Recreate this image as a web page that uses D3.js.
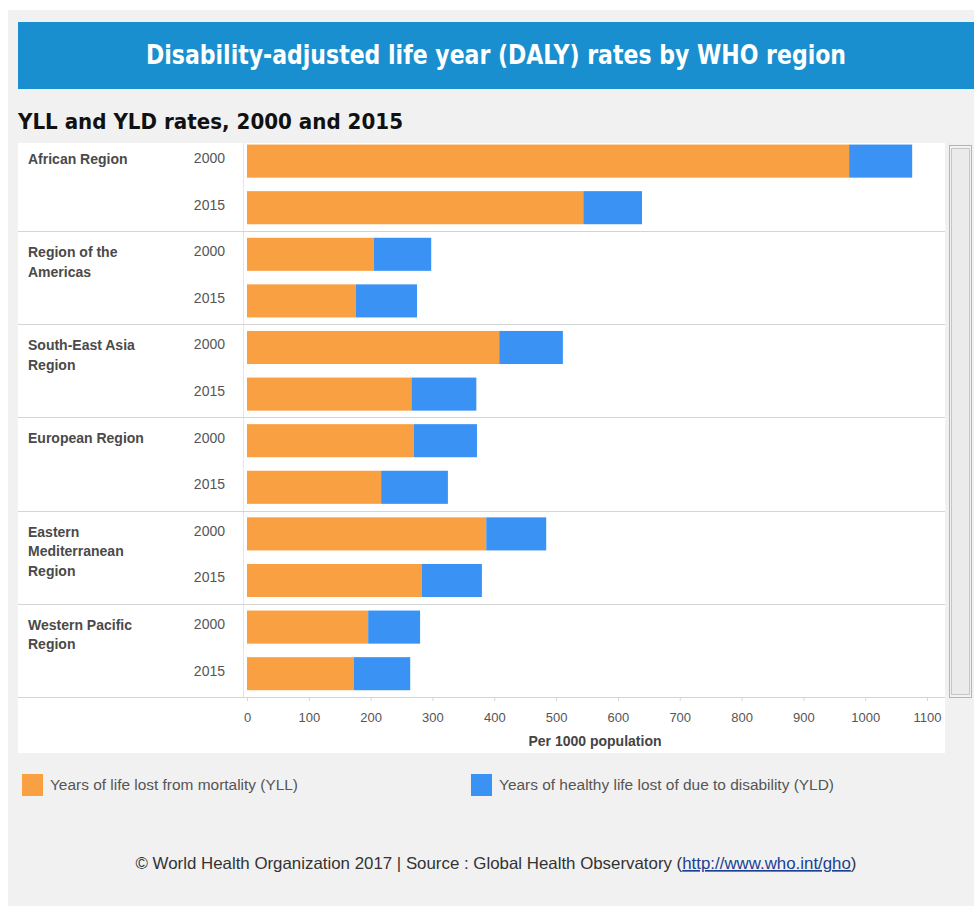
<!DOCTYPE html>
<html>
<head>
<meta charset="utf-8">
<script src="https://cdn.jsdelivr.net/npm/d3@7"></script>
<style>
  html, body { margin: 0; padding: 0; background: #ffffff; }
  svg { display: block; }
</style>
</head>
<body>
<svg id="chart" width="974" height="906"></svg>
<script>
// ---- data ----
const regions = ["African Region", "Region of the Americas", "South-East Asia Region", "European Region", "Eastern Mediterranean Region", "Western Pacific Region"];
const regionLines = [["African Region"], ["Region of the", "Americas"], ["South-East Asia", "Region"], ["European Region"], ["Eastern", "Mediterranean", "Region"], ["Western Pacific", "Region"]];
const years = ["2000", "2015"];
// YLL (years of life lost from mortality), per 1000 population
const yll2000 = [974, 205, 408, 270, 387, 196];
const yll2015 = [544, 176, 266, 217, 283, 173];
// YLD (years of healthy life lost due to disability)
const yld2000 = [102, 93, 103, 102, 97, 84];
const yld2015 = [95, 99, 105, 108, 97, 91];
const xTicks = [0, 100, 200, 300, 400, 500, 600, 700, 800, 900, 1000, 1100];
const seriesNames = ["Years of life lost from mortality (YLL)", "Years of healthy life lost of due to disability (YLD)"];
const colors = ["#f9a042", "#3a93f4"];

// build rows
const rows = [];
regions.forEach((r, i) => {
  rows.push({ key: r + "|2000", region: i, year: years[0], yll: yll2000[i], yld: yld2000[i] });
  rows.push({ key: r + "|2015", region: i, year: years[1], yll: yll2015[i], yld: yld2015[i] });
});

const svg = d3.select("#chart");
const font = "'Liberation Sans', Arial, sans-serif";
const condensed = "'DejaVu Sans Condensed', 'DejaVu Sans', sans-serif";

// background panel
svg.append("rect").attr("x", 8).attr("y", 10).attr("width", 966).attr("height", 896).attr("fill", "#f1f1f1");
svg.append("rect").attr("x", 18).attr("y", 143).attr("width", 927).attr("height", 610).attr("fill", "#ffffff");

// title banner
svg.append("rect").attr("x", 18).attr("y", 22).attr("width", 956).attr("height", 67).attr("fill", "#1a8fd0");
svg.append("text").attr("x", 496).attr("y", 64).attr("text-anchor", "middle")
  .attr("font-family", condensed).attr("font-stretch", "condensed").attr("font-weight", "bold")
  .attr("font-size", 26).attr("fill", "#ffffff")
  .attr("textLength", 700).attr("lengthAdjust", "spacingAndGlyphs")
  .text("Disability-adjusted life year (DALY) rates by WHO region");

// subtitle
svg.append("text").attr("x", 18).attr("y", 129)
  .attr("font-family", condensed).attr("font-stretch", "condensed")
  .attr("font-weight", "bold").attr("font-size", 22).attr("fill", "#111")
  .attr("textLength", 385).attr("lengthAdjust", "spacingAndGlyphs")
  .text("YLL and YLD rates, 2000 and 2015");

// scales
const x = d3.scaleLinear().domain([0, 1100]).range([247, 927]);
const y = d3.scaleBand().domain(rows.map(d => d.key)).range([137.8, 697])
  .paddingInner(0.29).paddingOuter(0.145);
const step = y.step();

// clip for the scrolled pane
svg.append("clipPath").attr("id", "pane").append("rect")
  .attr("x", 18).attr("y", 143).attr("width", 927).attr("height", 555);
const pane = svg.append("g").attr("clip-path", "url(#pane)");

// vertical separator between headers and plot
pane.append("line").attr("x1", 243.5).attr("x2", 243.5).attr("y1", 143).attr("y2", 697)
  .attr("stroke", "#e6e6e6");

// group separators
const groupTop = i => y(rows[i * 2].key) - y.paddingOuter() * step;
pane.selectAll("line.sep").data(regions).join("line").attr("class", "sep")
  .attr("x1", 18).attr("x2", 945)
  .attr("y1", (d, i) => Math.round(groupTop(i)) + 0.5)
  .attr("y2", (d, i) => Math.round(groupTop(i)) + 0.5)
  .attr("stroke", "#d4d4d4");

// bars
const bars = pane.append("g");
bars.selectAll("rect.yll").data(rows).join("rect").attr("class", "yll")
  .attr("x", x(0)).attr("y", d => y(d.key))
  .attr("width", d => x(d.yll) - x(0)).attr("height", y.bandwidth())
  .attr("fill", colors[0]);
bars.selectAll("rect.yld").data(rows).join("rect").attr("class", "yld")
  .attr("x", d => x(d.yll)).attr("y", d => y(d.key))
  .attr("width", d => x(d.yll + d.yld) - x(d.yll)).attr("height", y.bandwidth())
  .attr("fill", colors[1]);

// year labels
pane.selectAll("text.year").data(rows).join("text").attr("class", "year")
  .attr("x", 225).attr("y", d => y(d.key) + y.bandwidth() / 2 - 3)
  .attr("dy", "0.35em").attr("text-anchor", "end")
  .attr("font-family", font).attr("font-size", 14).attr("fill", "#555")
  .text(d => d.year);

// region labels
const rl = pane.selectAll("text.region").data(regionLines).join("text").attr("class", "region")
  .attr("font-family", font).attr("font-size", 14).attr("font-weight", "bold").attr("fill", "#4a4a4a");
rl.each(function (lines, i) {
  const t = d3.select(this);
  const top = groupTop(i);
  lines.forEach((ln, j) => {
    t.append("tspan").attr("x", 28).attr("y", top + 26 + j * 19.5).text(ln);
  });
});

// bottom axis line
svg.append("line").attr("x1", 18).attr("x2", 945).attr("y1", 697.5).attr("y2", 697.5).attr("stroke", "#d4d4d4");

// x axis
const axis = svg.append("g").attr("transform", "translate(0,698)")
  .call(d3.axisBottom(x).tickValues(xTicks).tickSize(3).tickPadding(12).tickFormat(d3.format("d")));
axis.select(".domain").remove();
axis.selectAll(".tick line").attr("stroke", "#d8d8d8");
axis.selectAll(".tick text").attr("font-family", font).attr("font-size", 13).attr("fill", "#555");

svg.append("text").attr("x", 595).attr("y", 746).attr("text-anchor", "middle")
  .attr("font-family", font).attr("font-size", 14).attr("font-weight", "bold").attr("fill", "#444")
  .text("Per 1000 population");

// scrollbar (decorative)
svg.append("rect").attr("x", 949.5).attr("y", 145.5).attr("width", 22).attr("height", 552)
  .attr("fill", "#f2f2f2").attr("stroke", "#b4b4b4");
svg.append("rect").attr("x", 951.5).attr("y", 148.5).attr("width", 18).attr("height", 546)
  .attr("fill", "#ebebeb").attr("stroke", "#c6c6c6");

// legend
const legX = [22, 471];
const legW = [248, 335];
const leg = svg.selectAll("g.leg").data(seriesNames).join("g").attr("class", "leg")
  .attr("transform", (d, i) => `translate(${legX[i]},774)`);
leg.append("rect").attr("width", 21).attr("height", 22).attr("fill", (d, i) => colors[i]);
leg.append("text").attr("x", 28).attr("y", 11).attr("dy", "0.35em")
  .attr("font-family", font).attr("font-size", 14).attr("fill", "#555")
  .attr("textLength", (d, i) => legW[i]).attr("lengthAdjust", "spacingAndGlyphs")
  .text(d => d);

// footer
const foot = svg.append("text").attr("x", 496).attr("y", 869).attr("text-anchor", "middle")
  .attr("font-family", font).attr("font-size", 16.5).attr("fill", "#333")
  .attr("textLength", 721).attr("lengthAdjust", "spacingAndGlyphs");
foot.append("tspan").text("© World Health Organization 2017 | Source : Global Health Observatory (");
foot.append("tspan").attr("fill", "#1c3f94").attr("text-decoration", "underline").text("http://www.who.int/gho");
foot.append("tspan").text(")");
</script>
</body>
</html>
